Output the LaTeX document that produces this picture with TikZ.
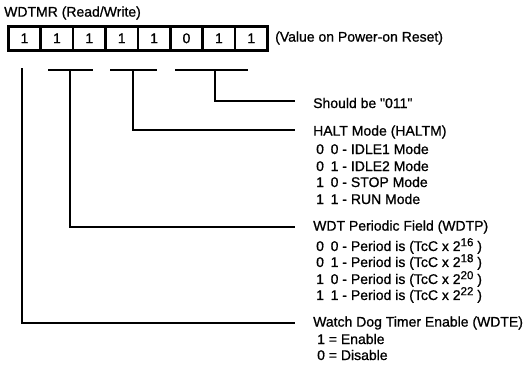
\documentclass[tikz,border=0pt]{standalone}
\usepackage{fontspec}
\newfontfamily\hv[FakeBold=0.9]{Liberation Sans}
\newcommand{\dg}[1]{\makebox[14.5pt][l]{#1}}
\newcommand{\pw}[1]{\raisebox{4.8pt}{\fontsize{11.5}{12}\selectfont #1}}
\begin{document}
\begin{tikzpicture}[x=1pt,y=-1pt,font=\hv\fontsize{14}{16}\selectfont,
  cell/.style={draw,line width=2.6pt,minimum width=32.4pt,minimum height=24pt,inner sep=0pt,anchor=north west},
  wire/.style={line width=2.6pt},
  lbl/.style={anchor=west,inner sep=0pt},
  sub/.style={anchor=west,inner sep=0pt}]
\useasboundingbox (0,0) rectangle (527,370);
\node[lbl] (title) at (4,13) {WDTMR (Read/Write)};
\foreach \i/\v in {1/1,2/1,3/1,4/1,5/1,6/0,7/1,8/1}
  \node[cell] (c\i) at ({7+(\i-1)*32.4},25) {\v};
\node[lbl] (reset) at (275,38) {(Value on Power-on Reset)};
% segments under bit groups
\coordinate (s1a) at (48,70);  \coordinate (s1b) at (93,70);
\coordinate (s2a) at (110,70); \coordinate (s2b) at (157,70);
\coordinate (s3a) at (175,70); \coordinate (s3b) at (248,70);
\draw[wire] (s1a) -- (s1b);
\draw[wire] (s2a) -- (s2b);
\draw[wire] (s3a) -- (s3b);
% branch points
\coordinate (v7) at (22,68);
\coordinate (v65) at (70,70);
\coordinate (v43) at (133,70);
\coordinate (v20) at (215,70);
\coordinate (e20) at (295,101);
\coordinate (e43) at (295,130);
\coordinate (e65) at (295,227);
\coordinate (e7) at (295,323);
\draw[wire] (v20) |- (e20);
\draw[wire] (v43) |- (e43);
\draw[wire] (v65) |- (e65);
\draw[wire] (v7) |- (e7);
% labels
\node[lbl] (should) at (313,103) {Should be "011"};
\node[lbl] (haltm) at (313,132) {HALT Mode (HALTM)};
\node[sub] (h1) at (316,149) {\dg{0}0 - IDLE1 Mode};
\node[sub] (h2) at (316,166) {\dg{0}1 - IDLE2 Mode};
\node[sub] (h3) at (316,182) {\dg{1}0 - STOP Mode};
\node[sub] (h4) at (316,199) {\dg{1}1 - RUN Mode};
\node[lbl] (wdtp) at (313,227) {WDT Periodic Field (WDTP)};
\node[sub] (p1) at (316,246) {\dg{0}0 - Period is (TcC x 2\pw{16} )};
\node[sub] (p2) at (316,262) {\dg{0}1 - Period is (TcC x 2\pw{18} )};
\node[sub] (p3) at (316,279) {\dg{1}0 - Period is (TcC x 2\pw{20} )};
\node[sub] (p4) at (316,295) {\dg{1}1 - Period is (TcC x 2\pw{22} )};
\node[lbl] (wdte) at (313,323) {Watch Dog Timer Enable (WDTE)};
\node[sub] (w1) at (317,339) {1 = Enable};
\node[sub] (w2) at (317,355) {0 = Disable};
\end{tikzpicture}
\end{document}
